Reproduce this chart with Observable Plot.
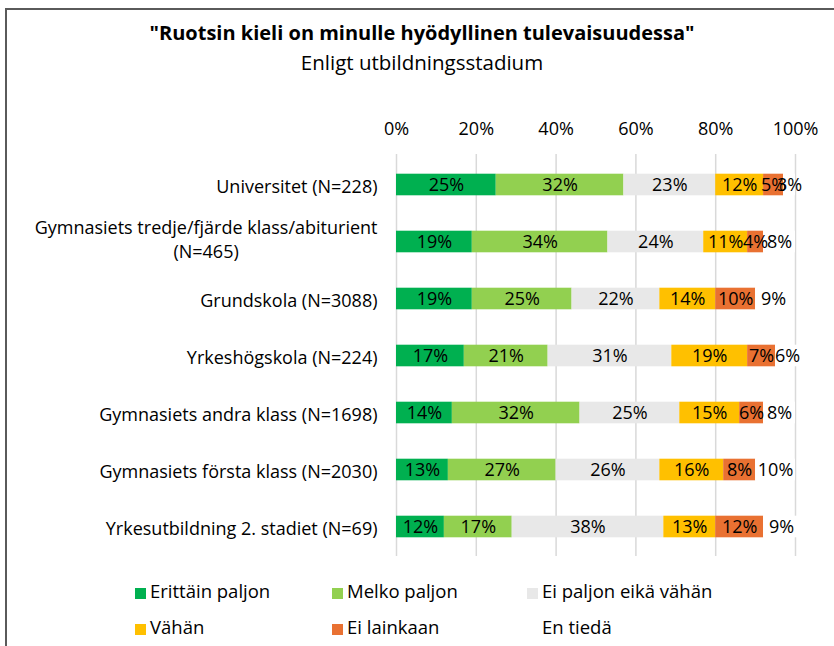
<!DOCTYPE html>
<html><head><meta charset="utf-8">
<script src="https://cdn.jsdelivr.net/npm/d3@7"></script>
<script src="https://cdn.jsdelivr.net/npm/@observablehq/plot@0.6"></script>
<style>
html,body{margin:0;padding:0;background:#fff;overflow:hidden;}
body{width:834px;height:646px;position:relative;font-family:"Open Sans",sans-serif;color:#000;}
#frame{position:absolute;left:5px;top:8px;width:900px;height:700px;border-left:2px solid #5a5a5a;border-top:2px solid #5a5a5a;}
.t{position:absolute;left:6px;width:832px;text-align:center;line-height:26px;white-space:nowrap;}
#title{top:20px;font-weight:bold;font-size:20px;}
#subtitle{top:49px;font-size:20.5px;}
#chart{position:absolute;left:0;top:100px;}
.leg{position:absolute;line-height:24px;font-size:18.5px;white-space:nowrap;}
.sw{display:inline-block;width:11px;height:11px;margin-right:4px;vertical-align:-1px;}
</style></head>
<body>
<div id="frame"></div>
<div id="title" class="t">"Ruotsin kieli on minulle hyödyllinen tulevaisuudessa"</div>
<div id="subtitle" class="t">Enligt utbildningsstadium</div>
<div id="chart"></div>
<div id="legend"></div>
<script>
const groups = [
  "Universitet (N=228)",
  "Gymnasiets tredje/fjärde klass/abiturient\n(N=465)",
  "Grundskola (N=3088)",
  "Yrkeshögskola (N=224)",
  "Gymnasiets andra klass (N=1698)",
  "Gymnasiets första klass (N=2030)",
  "Yrkesutbildning 2. stadiet (N=69)"
];
const categories = ["Erittäin paljon", "Melko paljon", "Ei paljon eikä vähän", "Vähän", "Ei lainkaan", "En tiedä"];
const colors = ["#00B050", "#92D050", "#E8E8E8", "#FFC000", "#E97132", "#FFFFFF"];
const erittainPaljon = [25, 19, 19, 17, 14, 13, 12];
const melkoPaljon    = [32, 34, 25, 21, 32, 27, 17];
const eiPaljonEika   = [23, 24, 22, 31, 25, 26, 38];
const vahan          = [12, 11, 14, 19, 15, 16, 13];
const eiLainkaan     = [5, 4, 10, 7, 6, 8, 12];
const enTieda        = [3, 8, 9, 6, 8, 10, 9];
const xTicks = [0, 20, 40, 60, 80, 100];

const series = [erittainPaljon, melkoPaljon, eiPaljonEika, vahan, eiLainkaan, enTieda];
const rows = [];
groups.forEach((g, i) => categories.forEach((c, j) => rows.push({group: g, cat: c, value: series[j][i]})));

const font = '"Open Sans", sans-serif';
const chart = Plot.plot({
  width: 834, height: 460,
  marginTop: 54, marginBottom: 4, marginLeft: 396, marginRight: 39,
  style: {fontFamily: font, fontSize: "18px", color: "#000", background: "transparent", overflow: "visible"},
  x: {domain: [0, 100], axis: null},
  y: {domain: groups, padding: 0, axis: null},
  color: {domain: categories, range: colors},
  marks: [
    Plot.gridX(xTicks, {stroke: "#d9d9d9", strokeOpacity: 1, strokeWidth: 1.5}),
    Plot.axisX(xTicks, {anchor: "top", label: null, tickSize: 0, tickPadding: 20, tickFormat: d => d + "%", fontSize: 18, fill: "#000"}),
    Plot.axisY({label: null, tickSize: 0, tickPadding: 19, fontSize: 18, lineHeight: 1.35, fill: "#000"}),
    Plot.barX(rows, Plot.stackX({x: "value", y: "group", fill: "cat", insetTop: 17.7, insetBottom: 17.7})),
    Plot.text(rows, Plot.stackX({x: "value", y: "group", z: "cat", text: d => d.value + "%", fill: "#000", fontSize: 18}))
  ]
});
document.getElementById("chart").append(chart);

// center multi-line y tick labels on their widest line
chart.querySelectorAll('g[aria-label="y-axis tick label"] text').forEach(t => {
  const spans = t.querySelectorAll("tspan");
  if (spans.length > 1) {
    let w = 0;
    spans.forEach(s => { w = Math.max(w, s.getComputedTextLength()); });
    t.setAttribute("text-anchor", "middle");
    t.setAttribute("transform", (t.getAttribute("transform") || "") + ` translate(${-w / 2},-4)`);
  }
});

// legend
const legendCols = [135, 332, 527];
const legendRows = [579, 615];
const legend = document.getElementById("legend");
categories.forEach((c, i) => {
  const d = document.createElement("div");
  d.className = "leg";
  d.style.left = legendCols[i % 3] + "px";
  d.style.top = legendRows[Math.floor(i / 3)] + "px";
  d.innerHTML = `<span class="sw" style="background:${colors[i]}"></span>${c}`;
  legend.append(d);
});
</script>
</body></html>
